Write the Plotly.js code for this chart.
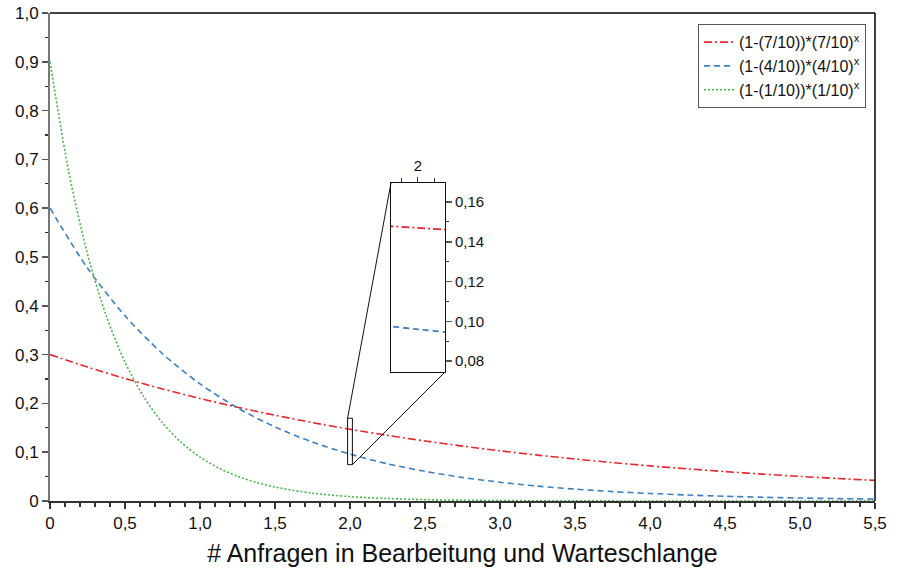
<!DOCTYPE html>
<html>
<head>
<meta charset="utf-8">
<script src="https://cdn.plot.ly/plotly-3.0.1.min.js"></script>
<style>html,body{margin:0;padding:0;background:#fff;}#chart{width:904px;height:573px;}</style>
</head>
<body>
<div id="chart"></div>
<script>
// ---- data ----
const seriesNames = ['(1-(7/10))*(7/10)<sup>x</sup>', '(1-(4/10))*(4/10)<sup>x</sup>', '(1-(1/10))*(1/10)<sup>x</sup>'];

const xA = [0,0.25,0.5,0.75,1,1.25,1.5,1.75,2,2.25,2.5,2.75,3,3.25,3.5,3.75,4,4.25,4.5,4.75,5,5.25,5.5];
const yA = [0.3,0.2744,0.2510,0.2296,0.21,0.1921,0.1757,0.1607,0.147,0.1345,0.1230,0.1125,0.1029,0.0941,0.0861,0.0787,0.0720,0.0659,0.0603,0.0551,0.0504,0.0461,0.0422];

const xB = [0,0.25,0.5,0.75,1,1.25,1.5,1.75,2,2.25,2.5,2.75,3,3.25,3.5,3.75,4,4.25,4.5,4.75,5,5.25,5.5];
const yB = [0.6,0.4772,0.3795,0.3018,0.24,0.1909,0.1518,0.1207,0.096,0.0763,0.0607,0.0483,0.0384,0.0305,0.0243,0.0193,0.0154,0.0122,0.0097,0.0077,0.0061,0.0049,0.0039];

const xC = [0,0.125,0.25,0.375,0.5,0.625,0.75,0.875,1,1.125,1.25,1.375,1.5,1.75,2,2.25,2.5,2.75,3,3.5,4,4.5,5,5.5];
const yC = [0.9,0.6749,0.5061,0.3795,0.2846,0.2134,0.16,0.12,0.09,0.0675,0.0506,0.038,0.0285,0.016,0.009,0.0051,0.0028,0.0016,0.0009,0.00028,0.00009,0.00003,0.00001,0.000003];

const xTickVals = [0,0.5,1,1.5,2,2.5,3,3.5,4,4.5,5,5.5];
const xTickText = ['0','0,5','1,0','1,5','2,0','2,5','3,0','3,5','4,0','4,5','5,0','5,5'];
const yTickVals = [0,0.1,0.2,0.3,0.4,0.5,0.6,0.7,0.8,0.9,1.0];
const yTickText = ['0','0,1','0,2','0,3','0,4','0,5','0,6','0,7','0,8','0,9','1,0'];

const mainXRange = [0, 5.5];
const mainYRange = [0, 1.0];
const insetXRange = [1.984, 2.016];
const insetYRange = [0.0745, 0.1696];
const insetXTicks = [2];
const insetXTickText = ['2'];

// ---- styles ----
const colors = ['#e8262b', '#3b7fc0', '#48b548'];
const dashes = ['8px,3px,2px,3px', '6px,4px', '2px,2px'];
const xs = [xA, xB, xC];
const ys = [yA, yB, yC];

const traces = [];
for (let i = 0; i < 3; i++) {
  traces.push({
    x: xs[i], y: ys[i], name: seriesNames[i], type: 'scatter', mode: 'lines',
    line: {color: colors[i], width: 1.6, dash: dashes[i], shape: 'spline', smoothing: 0.8},
    xaxis: 'x', yaxis: 'y', hoverinfo: 'skip'
  });
}
for (let i = 0; i < 2; i++) {
  traces.push({
    x: xs[i], y: ys[i], name: seriesNames[i], type: 'scatter', mode: 'lines', showlegend: false,
    line: {color: colors[i], width: 1.8, dash: dashes[i], shape: 'spline', smoothing: 0.8},
    xaxis: 'x2', yaxis: 'y2', hoverinfo: 'skip'
  });
}

const insetDomX = [0.4133, 0.4788];
const insetDomY = [0.2643, 0.6516];
function px(v) { return (v - mainXRange[0]) / (mainXRange[1] - mainXRange[0]); }
function py(v) { return (v - mainYRange[0]) / (mainYRange[1] - mainYRange[0]); }

const font = 'Liberation Sans, Arial, sans-serif';
const layout = {
  width: 904, height: 573,
  margin: {l: 50, r: 29, t: 13, b: 72},
  paper_bgcolor: '#fff', plot_bgcolor: '#fff',
  separators: ',.',
  font: {family: font, size: 17, color: '#111'},
  showlegend: true,
  legend: {
    x: 0.989, y: 0.977, xanchor: 'right', yanchor: 'top',
    bgcolor: '#fff', bordercolor: '#555', borderwidth: 1,
    font: {family: font, size: 16, color: '#111'},
    tracegroupgap: 0, itemwidth: 30
  },
  xaxis: {
    domain: [0, 1], range: mainXRange, tickvals: xTickVals, ticktext: xTickText,
    showgrid: false, zeroline: false, showline: true, linecolor: '#333', linewidth: 1.5, mirror: false,
    ticks: 'outside', ticklen: 6, tickcolor: '#333', tickwidth: 1.5,
    minor: {dtick: 0.1, ticks: 'outside', ticklen: 4, tickcolor: '#333', tickwidth: 1.2, showgrid: false},
    tickfont: {size: 17},
    title: {text: '# Anfragen in Bearbeitung und Warteschlange', font: {size: 25, color: '#111'}, standoff: 12},
    automargin: false
  },
  yaxis: {
    domain: [0, 1], range: mainYRange, tickvals: yTickVals, ticktext: yTickText,
    showgrid: false, zeroline: false, showline: true, linecolor: '#777', linewidth: 2,
    ticks: 'outside', ticklen: 6, tickcolor: '#555', tickwidth: 1.5,
    minor: {dtick: 0.05, ticks: 'outside', ticklen: 3, tickcolor: '#333', tickwidth: 1.2, showgrid: false},
    tickfont: {size: 17},
    automargin: false
  },
  xaxis2: {
    domain: insetDomX, anchor: 'y2', side: 'top', range: insetXRange,
    tickvals: insetXTicks, ticktext: insetXTickText,
    showgrid: false, zeroline: false, showline: true, linecolor: '#111', linewidth: 1, mirror: true,
    ticks: 'outside', ticklen: 5, tickcolor: '#333', tickwidth: 1,
    minor: {dtick: 0.01, ticks: 'outside', ticklen: 4, tickcolor: '#333', tickwidth: 1, showgrid: false},
    tickfont: {size: 15}, automargin: false
  },
  yaxis2: {
    domain: insetDomY, anchor: 'x2', side: 'right', range: insetYRange,
    dtick: 0.02, tick0: 0, tickformat: '.2f',
    showgrid: false, zeroline: false, showline: true, linecolor: '#111', linewidth: 1, mirror: true,
    ticks: 'outside', ticklen: 6, tickcolor: '#555', tickwidth: 1.5,
    minor: {dtick: 0.01, ticks: 'outside', ticklen: 3, tickcolor: '#333', tickwidth: 1, showgrid: false},
    tickfont: {size: 15}, automargin: false
  },
  shapes: [
    // top and right frame
    {type: 'line', xref: 'paper', yref: 'paper', x0: 0, x1: 1, y0: 1, y1: 1, line: {color: '#000', width: 1.5}},
    {type: 'line', xref: 'paper', yref: 'paper', x0: 1, x1: 1, y0: 0, y1: 1, line: {color: '#000', width: 1.5}},
    // zoom rectangle in main axes
    {type: 'rect', xref: 'x', yref: 'y', x0: insetXRange[0], x1: insetXRange[1], y0: insetYRange[0], y1: insetYRange[1],
      line: {color: '#111', width: 1}, fillcolor: 'rgba(0,0,0,0)'},
    // connectors
    {type: 'line', xref: 'paper', yref: 'paper', x0: px(insetXRange[0]), y0: py(insetYRange[1]), x1: insetDomX[0], y1: insetDomY[1],
      line: {color: '#111', width: 1}},
    {type: 'line', xref: 'paper', yref: 'paper', x0: px(insetXRange[1]), y0: py(insetYRange[0]), x1: insetDomX[1], y1: insetDomY[0],
      line: {color: '#111', width: 1}}
  ]
};

Plotly.newPlot('chart', traces, layout, {staticPlot: true, displayModeBar: false});
</script>
</body>
</html>
